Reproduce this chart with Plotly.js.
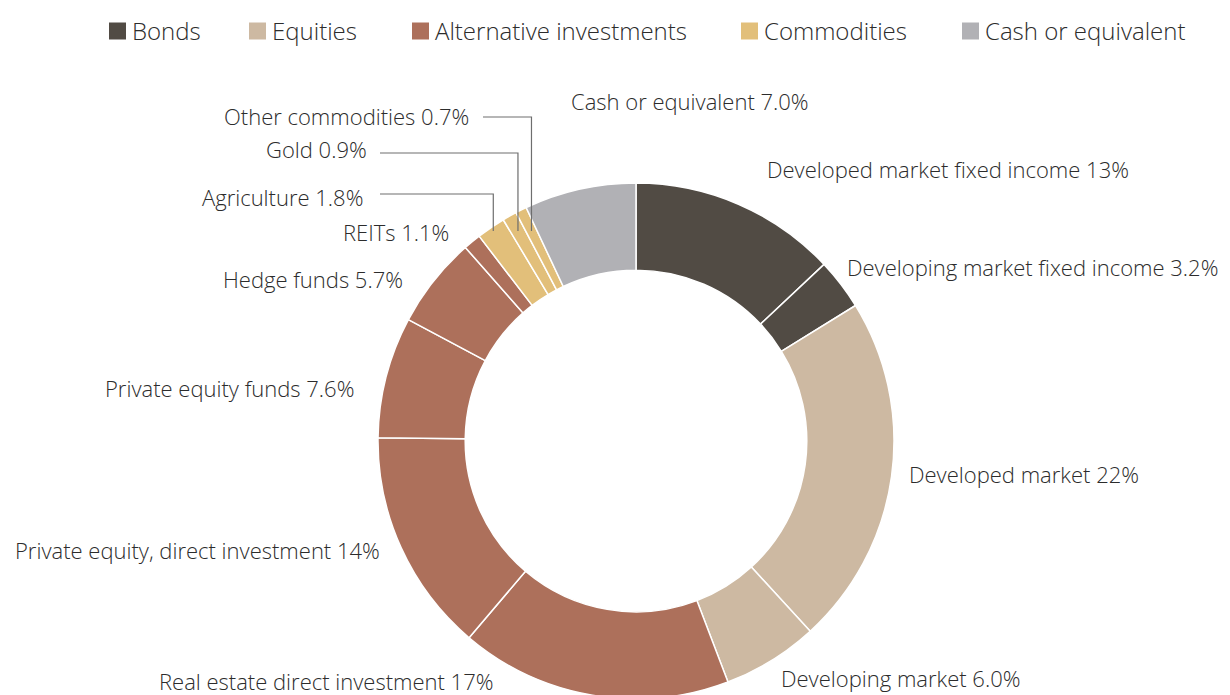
<!DOCTYPE html>
<html>
<head>
<meta charset="utf-8">
<script src="https://cdn.plot.ly/plotly-3.0.1.min.js"></script>
<style>
html,body{margin:0;padding:0;overflow:hidden;background:#fff;}
#chart{width:1230px;height:720px;}
</style>
</head>
<body>
<div id="chart"></div>
<script>
// ---- data ----
const sliceLabels = [
  "Developed market fixed income", "Developing market fixed income",
  "Developed market", "Developing market",
  "Real estate direct investment", "Private equity, direct investment",
  "Private equity funds", "Hedge funds", "REITs",
  "Agriculture", "Gold", "Other commodities",
  "Cash or equivalent"
];
const sliceValues = [13, 3.2, 22, 6.0, 17, 14, 7.6, 5.7, 1.1, 1.8, 0.9, 0.7, 7.0];
const sliceValueText = ["13%", "3.2%", "22%", "6.0%", "17%", "14%", "7.6%", "5.7%", "1.1%", "1.8%", "0.9%", "0.7%", "7.0%"];
const sliceGroup = [0, 0, 1, 1, 2, 2, 2, 2, 2, 3, 3, 3, 4];
const groupNames = ["Bonds", "Equities", "Alternative investments", "Commodities", "Cash or equivalent"];
const groupColors = ["#514b44", "#cdb9a2", "#ad705b", "#e2bf7a", "#b1b1b5"];

// ---- layout constants (pixels) ----
const W = 1230, H = 720;
const cx = 636, cy = 441, R = 258, holeFrac = 0.662;
const px2x = p => p / W;
const py2y = p => 1 - p / H;

// label placement: [x, y, anchor] (pixels)
const labelPos = [
  [765, 169, "left"], [845, 267, "left"],
  [907, 474, "left"], [779, 678, "left"],
  [495, 681, "right"], [382, 550, "right"],
  [356, 388, "right"], [405, 279, "right"], [451, 232, "right"],
  [365, 197, "right"], [369, 149, "right"], [471, 116, "right"],
  [569, 101, "left"]
];
// leader lines: slice index -> [horizontal start x, line y]
const leaders = {9: [380, 194], 10: [380, 153], 11: [483, 117]};
const leaderEndY = 231;

// legend placement (square left x)
const legendX = [109, 249, 412, 741, 962];
const legendY = 31, sq = 17;

const font = "'Open Sans', 'Noto Sans', sans-serif";
const textColor = "#2c2c2c";

const colors = sliceGroup.map(g => groupColors[g]);

const pie = {
  type: "pie",
  labels: sliceLabels,
  values: sliceValues,
  sort: false,
  direction: "clockwise",
  rotation: 0,
  hole: holeFrac,
  textinfo: "none",
  hoverinfo: "none",
  showlegend: false,
  marker: {colors: colors, line: {color: "#ffffff", width: 1.5}},
  domain: {x: [px2x(cx - R), px2x(cx + R)], y: [py2y(cy + R), py2y(cy - R)]}
};

const annotations = [];
const shapes = [];

sliceLabels.forEach((lab, i) => {
  const p = labelPos[i];
  annotations.push({
    xref: "paper", yref: "paper",
    x: px2x(p[0]), y: py2y(p[1]),
    xanchor: p[2], yanchor: "middle",
    text: lab + " " + sliceValueText[i],
    showarrow: false,
    font: {family: font, size: 22, weight: 300, color: textColor}
  });
});

// leader lines computed from slice mid-angle
const total = sliceValues.reduce((a, b) => a + b, 0);
let cum = 0;
const midAngle = sliceValues.map(v => { const m = (cum + v / 2) / total * 2 * Math.PI; cum += v; return m; });
Object.keys(leaders).forEach(k => {
  const i = +k;
  const [xs, ly] = leaders[i];
  const xv = cx + (cy - leaderEndY) * Math.tan(midAngle[i]);
  shapes.push({
    type: "path", xref: "paper", yref: "paper",
    path: `M ${px2x(xs)} ${py2y(ly)} L ${px2x(xv)} ${py2y(ly)} L ${px2x(xv)} ${py2y(leaderEndY)}`,
    line: {color: "#6e6e6e", width: 1.2}
  });
});

// legend
groupNames.forEach((g, i) => {
  shapes.push({
    type: "rect", xref: "paper", yref: "paper",
    x0: px2x(legendX[i]), x1: px2x(legendX[i] + sq),
    y0: py2y(legendY - sq / 2), y1: py2y(legendY + sq / 2),
    fillcolor: groupColors[i], line: {width: 0}
  });
  annotations.push({
    xref: "paper", yref: "paper",
    x: px2x(legendX[i] + sq + 4), y: py2y(legendY),
    xanchor: "left", yanchor: "middle",
    text: g, showarrow: false,
    font: {family: font, size: 24, weight: 300, color: textColor}
  });
});

const layout = {
  width: W, height: H,
  margin: {l: 0, r: 0, t: 0, b: 0},
  paper_bgcolor: "#ffffff",
  showlegend: false,
  annotations: annotations,
  shapes: shapes
};

Plotly.newPlot("chart", [pie], layout, {staticPlot: true, displayModeBar: false});
</script>
</body>
</html>
